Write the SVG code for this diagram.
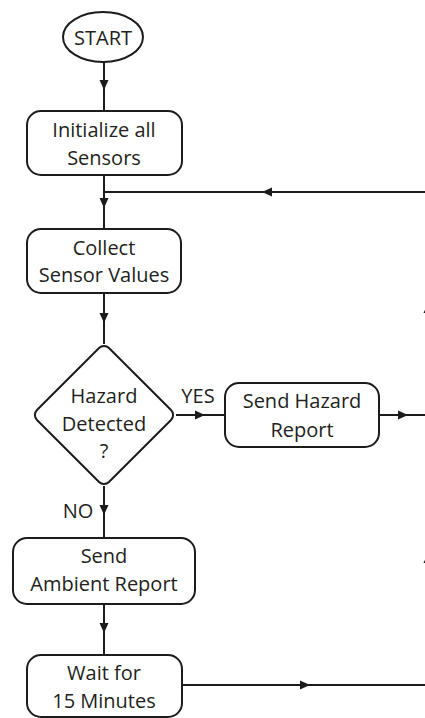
<svg xmlns="http://www.w3.org/2000/svg" width="425" height="718" viewBox="0 0 425 718">
<style>
.s{fill:#fff;stroke:#1c1c1c;stroke-width:2}
.t{font-family:"Open Sans","Noto Sans",sans-serif;font-size:20px;fill:#231f20;text-anchor:middle}
.c{fill:none;stroke:#1c1c1c;stroke-width:2;marker-mid:url(#a)}
</style>
<defs>
<marker id="a" viewBox="0 0 10 10" refX="10" refY="5" markerWidth="10" markerHeight="10" markerUnits="userSpaceOnUse" orient="auto">
<path d="M0,0.5 L10,5 L0,9.5 z" fill="#1c1c1c"/>
</marker>
</defs>
<rect width="425" height="718" fill="#fff"/>
<g id="connectors">
<path class="c" d="M104,62 L104,90 L104,111"/>
<path class="c" d="M104,175 L104,208 L104,229"/>
<path class="c" d="M428,192 L262,192 L104,192"/>
<path class="c" d="M104,293 L104,323 L104,344"/>
<path class="c" d="M176,415 L205,415 L225,415"/>
<path class="c" d="M379,415 L408,415 L428,415"/>
<path class="c" d="M104,486 L104,515 L104,538"/>
<path class="c" d="M104,604 L104,633 L104,655"/>
<path class="c" d="M182,685 L310,685 L428,685"/>
<path class="c" d="M428,685 L428,553 L428,303 L428,192"/>
<text class="t" x="198" y="403">YES</text>
<text class="t" x="78" y="518">NO</text>
</g>
<g id="start">
<ellipse class="s" cx="103" cy="37" rx="40" ry="25"/>
<text class="t" x="103" y="45">START</text>
</g>
<g id="init">
<rect class="s" x="27" y="111" width="155" height="64" rx="14"/>
<text class="t" x="104" y="137">Initialize all</text>
<text class="t" x="104" y="165">Sensors</text>
</g>
<g id="collect">
<rect class="s" x="27" y="229" width="154" height="64" rx="14"/>
<text class="t" x="104" y="255">Collect</text>
<text class="t" x="104" y="282">Sensor Values</text>
</g>
<g id="hazard">
<rect class="s" x="-50.9" y="-50.9" width="101.8" height="101.8" rx="7" transform="translate(104,415) rotate(45)"/>
<text class="t" x="104" y="403">Hazard</text>
<text class="t" x="104" y="431">Detected</text>
<text class="t" x="104" y="458">?</text>
</g>
<g id="sendHazard">
<rect class="s" x="225" y="383" width="154" height="64" rx="14"/>
<text class="t" x="302" y="408">Send Hazard</text>
<text class="t" x="302" y="437">Report</text>
</g>
<g id="ambient">
<rect class="s" x="13" y="538" width="182" height="66" rx="14"/>
<text class="t" x="104" y="563">Send</text>
<text class="t" x="104" y="591">Ambient Report</text>
</g>
<g id="wait">
<rect class="s" x="27" y="655" width="155" height="62" rx="14"/>
<text class="t" x="104" y="680">Wait for</text>
<text class="t" x="104" y="708">15 Minutes</text>
</g>
</svg>
